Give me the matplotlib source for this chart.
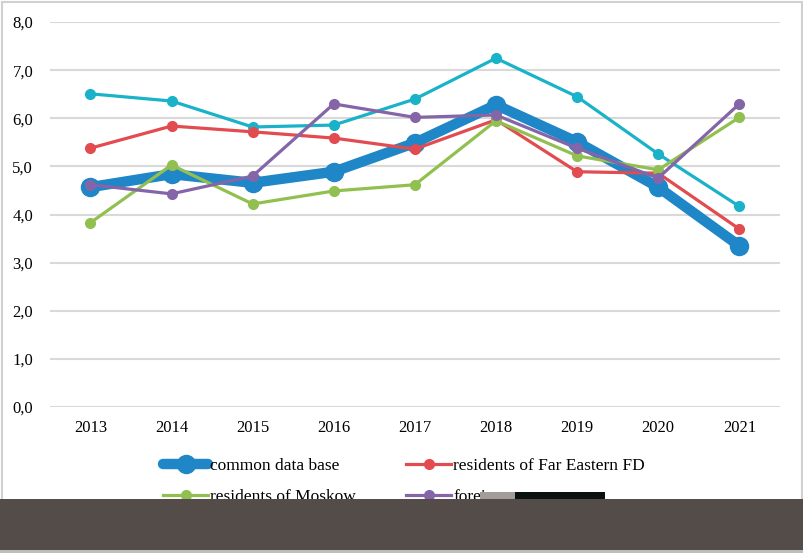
import matplotlib.pyplot as plt
from matplotlib.patches import Rectangle

plt.rcParams['font.family'] = ['Liberation Serif', 'DejaVu Serif']

years = ['2013', '2014', '2015', '2016', '2017', '2018', '2019', '2020', '2021']
common = [4.57, 4.84, 4.66, 4.89, 5.49, 6.28, 5.51, 4.57, 3.35]
far_east = [5.38, 5.84, 5.72, 5.59, 5.36, 5.97, 4.89, 4.86, 3.70]
moskow = [3.83, 5.03, 4.22, 4.49, 4.62, 5.95, 5.22, 4.93, 6.02]
foreign = [4.62, 4.43, 4.80, 6.30, 6.02, 6.07, 5.38, 4.76, 6.30]
cyan_s = [6.51, 6.36, 5.82, 5.86, 6.40, 7.25, 6.45, 5.26, 4.17]
yticks = [0, 1, 2, 3, 4, 5, 6, 7, 8]

fig = plt.figure(figsize=(8.04, 5.53), dpi=100)
ax = fig.add_axes([0.062, 0.264, 0.908, 0.696])

x = range(len(years))
l1, = ax.plot(x, common, color='#1f86c8', lw=7.5, marker='o', ms=13, label='common data base',
              zorder=3, solid_capstyle='round', solid_joinstyle='round')
ax.plot(x, cyan_s, color='#1ab2c9', lw=2.3, marker='o', ms=7, zorder=4)
l2, = ax.plot(x, far_east, color='#e24b4f', lw=2.3, marker='o', ms=7, label='residents of Far Eastern FD', zorder=4)
l3, = ax.plot(x, moskow, color='#92c050', lw=2.3, marker='o', ms=7, label='residents of Moskow', zorder=4)
l4, = ax.plot(x, foreign, color='#8466a8', lw=2.3, marker='o', ms=7, label='foreigners', zorder=5)

ax.set_xlim(-0.5, len(years) - 0.5)
ax.set_ylim(0, 8)
ax.set_yticks(yticks)
ax.set_yticklabels(['%d,0' % v for v in yticks], fontsize=12)
ax.set_xticks(list(x))
ax.set_xticklabels(years, fontsize=12)
ax.tick_params(length=0, pad=9)
ax.tick_params(axis='y', pad=12)
ax.grid(axis='y', color='#d9d9d9', lw=1.5)
ax.set_axisbelow(True)
for s in ax.spines.values():
    s.set_visible(False)

# column-wise fill: common / moskow in the first column
fig.legend([l1, l3, l2, l4], [l1.get_label(), l3.get_label(), l2.get_label(), l4.get_label()],
           loc='upper left', bbox_to_anchor=(0.203, 0.172), ncol=2, frameon=False,
           fontsize=12.5, handlelength=2.6, handletextpad=0.1, columnspacing=2.9,
           labelspacing=0.85, borderpad=0, borderaxespad=0)

# chart border
fig.patches.append(Rectangle((0.003, 0.003), 0.994, 0.993, transform=fig.transFigure,
                             fill=False, ec='#d0d0d0', lw=1.5, zorder=1))
# dark band and black box covering the bottom
fig.patches.append(Rectangle((0, 0), 1, 0.0976, transform=fig.transFigure,
                             fc='#544c49', ec='none', zorder=10))
fig.patches.append(Rectangle((0, 0), 1, 0.006, transform=fig.transFigure,
                             fc='#bdbdbd', ec='none', zorder=11))
fig.patches.append(Rectangle((480 / 804, 0.0976), 35 / 804, 7 / 553, transform=fig.transFigure,
                             fc='#a39c9a', ec='none', zorder=10))
fig.patches.append(Rectangle((515 / 804, 0.0976), 90 / 804, 7 / 553, transform=fig.transFigure,
                             fc='#0a1210', ec='none', zorder=10))

fig.savefig('out.png', dpi=100)
